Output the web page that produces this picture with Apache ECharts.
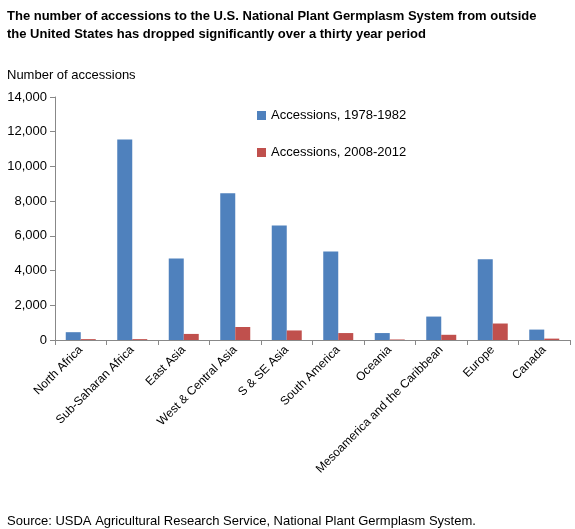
<!DOCTYPE html>
<html><head><meta charset="utf-8">
<script src="https://cdn.jsdelivr.net/npm/echarts@6/dist/echarts.min.js"></script>
<style>body{margin:0}#c{width:575px;height:529px}</style></head>
<body><div id="c"></div>
<script>
const categories=["North Africa","Sub-Saharan Africa","East Asia","West & Central Asia","S & SE Asia","South America","Oceania","Mesoamerica and the Caribbean","Europe","Canada"];
const acc1978=[450,11550,4700,8450,6600,5100,400,1350,4650,600];
const acc2008=[50,50,350,750,550,400,30,300,950,80];
const chart=echarts.init(document.getElementById('c'));
const F='Liberation Sans, Arial, sans-serif';
chart.setOption({
  animation:false,
  textStyle:{fontFamily:F},
  title:[
    {text:'The number of accessions to the U.S. National Plant Germplasm System from outside\nthe United States has dropped significantly over a thirty year period',left:2,top:2,textStyle:{fontSize:13,fontWeight:'bold',color:'#000',lineHeight:18,fontFamily:F}},
    {text:'Number of accessions',left:2,top:64,textStyle:{fontSize:13,fontWeight:'normal',color:'#000',fontFamily:F}},
    {text:'Source: USDA Agricultural Research Service, National Plant Germplasm System.',left:2,top:510,textStyle:{fontSize:13,fontWeight:'normal',color:'#000',fontFamily:F}}
  ],
  legend:{orient:'vertical',left:252,top:104,itemGap:24,itemWidth:9,itemHeight:9,icon:'rect',textStyle:{fontSize:13,color:'#000'}},
  grid:{left:55,top:97,right:5,bottom:189,containLabel:false},
  xAxis:{type:'category',data:categories,axisTick:{show:true,lineStyle:{color:'#888'}},axisLine:{lineStyle:{color:'#888'}},axisLabel:{rotate:45,interval:0,fontSize:12,color:'#000',margin:8}},
  yAxis:{type:'value',min:0,max:14000,interval:2000,axisLine:{show:true,lineStyle:{color:'#888'}},axisTick:{show:true,lineStyle:{color:'#888'}},splitLine:{show:false},axisLabel:{fontSize:13,color:'#000',formatter:v=>v.toLocaleString('en-US')}},
  series:[
    {name:'Accessions, 1978-1982',type:'bar',data:acc1978,barWidth:15,barGap:'0%',itemStyle:{color:'#4f81bd'}},
    {name:'Accessions, 2008-2012',type:'bar',data:acc2008,barWidth:15,barGap:'0%',itemStyle:{color:'#c0504d'}}
  ]
});
</script></body></html>
